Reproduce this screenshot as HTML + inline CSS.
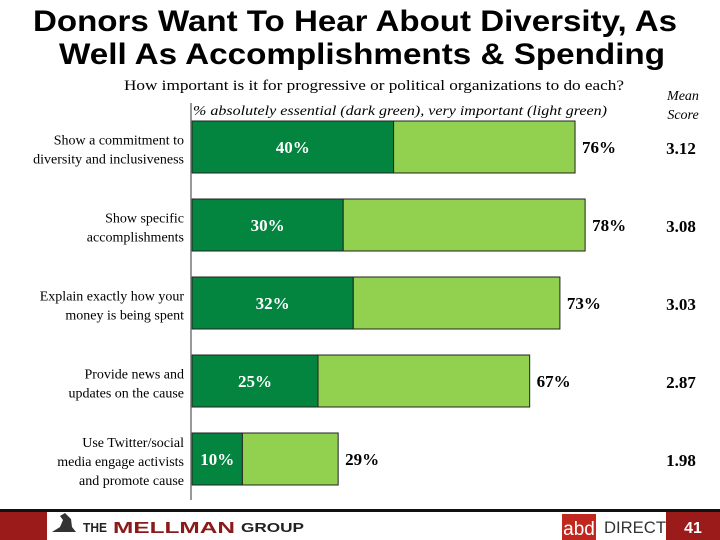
<!DOCTYPE html>
<html><head><meta charset="utf-8"><style>
html,body{margin:0;padding:0;background:#fff;width:720px;height:540px;overflow:hidden}
svg{display:block}
.s{font-family:"Liberation Serif",serif}
</style></head><body>
<svg id="c" width="720" height="540" viewBox="0 0 720 540">
<text x="355" y="31" text-anchor="middle" font-family="Liberation Sans,sans-serif" font-weight="bold" font-size="30" textLength="644" lengthAdjust="spacingAndGlyphs">Donors Want To Hear About Diversity, As</text>
<text x="362" y="64" text-anchor="middle" font-family="Liberation Sans,sans-serif" font-weight="bold" font-size="30" textLength="606" lengthAdjust="spacingAndGlyphs">Well As Accomplishments &amp; Spending</text>
<text class="s" x="374" y="90" text-anchor="middle" font-size="15" textLength="500" lengthAdjust="spacingAndGlyphs">How important is it for progressive or political organizations to do each?</text>
<text class="s" x="400" y="115" text-anchor="middle" font-size="14" font-style="italic" textLength="414" lengthAdjust="spacingAndGlyphs">% absolutely essential (dark green), very important (light green)</text>
<text class="s" x="683" y="100" text-anchor="middle" font-size="14" font-style="italic">Mean</text>
<text class="s" x="683" y="119" text-anchor="middle" font-size="14" font-style="italic">Score</text>
<line x1="191" y1="103" x2="191" y2="500" stroke="#999" stroke-width="2"/>
<g id="bars"></g>
<g>
<rect x="0" y="509" width="720" height="3" fill="#111"/>
<rect x="0" y="512" width="47" height="28" fill="#9b1b1b"/>
<rect x="666" y="512" width="54" height="28" fill="#9b1b1b"/>
<rect x="562" y="514" width="34" height="26" fill="#c0271f"/>
<text x="579" y="535" text-anchor="middle" font-family="Liberation Sans,sans-serif" font-size="19" fill="#fff">abd</text>
<text x="604" y="533" font-family="Liberation Sans,sans-serif" font-size="17" fill="#333" textLength="62" lengthAdjust="spacingAndGlyphs">DIRECT</text>
<path d="M52 532 L76 532 L72 527 L71 519 L65 513 L60 516 L63 520 L60 527 Z" fill="#333"/>
<text x="83" y="532" font-family="Liberation Sans,sans-serif" font-size="13" font-weight="bold" fill="#222" textLength="24" lengthAdjust="spacingAndGlyphs">THE</text>
<text x="113" y="533" font-family="Liberation Sans,sans-serif" font-size="16" font-weight="bold" fill="#8b1a1a" textLength="122" lengthAdjust="spacingAndGlyphs">MELLMAN</text>
<text x="241" y="532" font-family="Liberation Sans,sans-serif" font-size="13" font-weight="bold" fill="#222" textLength="63" lengthAdjust="spacingAndGlyphs">GROUP</text>
<text x="693" y="533" text-anchor="middle" font-family="Liberation Sans,sans-serif" font-size="16" font-weight="bold" fill="#fff">41</text>
</g>
</svg>
<script>
const categories=[["Show a commitment to","diversity and inclusiveness"],["Show specific","accomplishments"],["Explain exactly how your","money is being spent"],["Provide news and","updates on the cause"],["Use Twitter/social","media engage activists","and promote cause"]];
const essential=[40,30,32,25,10];
const totals=[76,78,73,67,29];
const means=["3.12","3.08","3.03","2.87","1.98"];
const NS="http://www.w3.org/2000/svg";
const g=document.getElementById('bars');
const x=v=>192+v*5.04;
const yTop=i=>121+i*78;
const H=52;
function mk(t,a){const e=document.createElementNS(NS,t);for(const k in a)e.setAttribute(k,a[k]);g.appendChild(e);return e;}
categories.forEach((cat,i)=>{
  const y=yTop(i);
  const d=mk('rect',{x:x(0),y:y,width:x(essential[i])-x(0),height:H,fill:'#03843f',stroke:'#222','stroke-width':1});
  
  
  const l=mk('rect',{x:x(essential[i]),y:y,width:x(totals[i])-x(essential[i]),height:H,fill:'#92d050',stroke:'#222','stroke-width':1});
  
  
  const t1=mk('text',{x:(x(0)+x(essential[i]))/2,y:y+H/2+6,'text-anchor':'middle','font-family':'Liberation Serif,serif','font-size':17,'font-weight':'bold',fill:'#fff'});
  t1.textContent=essential[i]+'%';
  
  
  const t2=mk('text',{x:x(totals[i])+7,y:y+H/2+6,'font-family':'Liberation Serif,serif','font-size':17,'font-weight':'bold',fill:'#000'});
  t2.textContent=totals[i]+'%';
  
  
  const m=mk('text',{x:681,y:y+H/2+7,'text-anchor':'middle','font-family':'Liberation Serif,serif','font-size':17,'font-weight':'bold',fill:'#000'});
  m.textContent=means[i];
  
  
  const n=cat.length;
  cat.forEach((line,j)=>{
    const c=mk('text',{x:184,y:y+H/2+7+(j-(n-1)/2)*19,'text-anchor':'end','font-family':'Liberation Serif,serif','font-size':14,fill:'#000'});
    c.textContent=line;
    
    
  });
});
</script>
</body></html>
